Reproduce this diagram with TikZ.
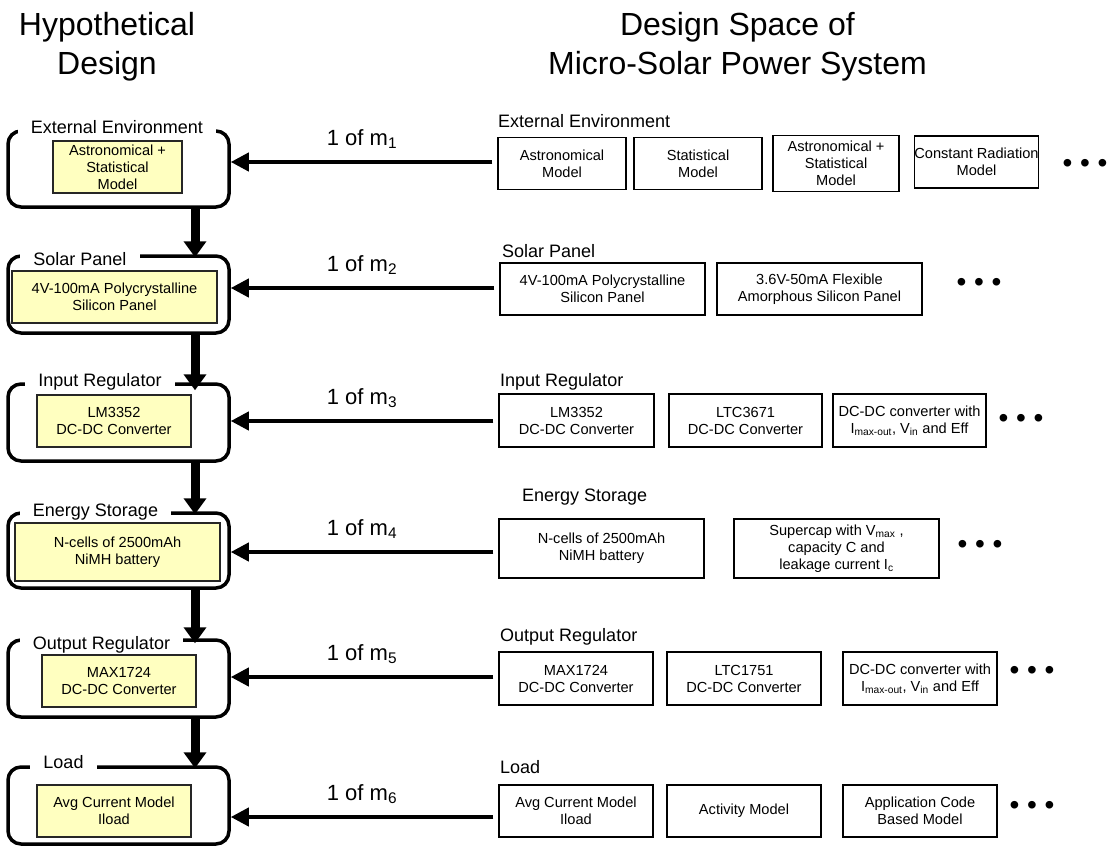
\documentclass[tikz,border=0pt]{standalone}
\usepackage{fontspec}
\setmainfont{Liberation Sans}
\usetikzlibrary{arrows.meta}
\definecolor{boxyellow}{RGB}{255,255,192}
\begin{document}
\begin{tikzpicture}[x=1pt,y=-1pt,
  container/.style={draw=black, line width=3.5pt, rounded corners=13pt, inner sep=0pt},
  choice/.style={draw=black!85, fill=boxyellow, line width=1.3pt, inner sep=0pt, align=center, font=\fontsize{14.6}{17}\selectfont},
  option/.style={draw=black, line width=1.2pt, inner sep=0pt, align=center, font=\fontsize{14.6}{17}\selectfont},
  clabel/.style={anchor=base, fill=white, inner xsep=13pt, inner ysep=1pt, font=\fontsize{18}{20}\selectfont},
  slabel/.style={anchor=base west, inner sep=0pt, font=\fontsize{18}{20}\selectfont},
  mlabel/.style={anchor=base, inner sep=0pt, font=\fontsize{22}{24}\selectfont},
  title/.style={align=center, inner sep=0pt, font=\fontsize{32}{39}\selectfont},
  dots/.style={inner sep=0pt, font=\fontsize{28}{28}\selectfont},
  harrow/.style={line width=4pt, -{Triangle[length=18pt,width=18pt]}, shorten <=5pt},
  varrow/.style={line width=9pt, -{Triangle[length=16pt,width=22pt]}},
]
\useasboundingbox (0,0) rectangle (1114,846);

% titles
\node[title] (th) at (107,47) {Hypothetical\\Design};
\node[title] (ts) at (737.5,47) {Design Space of\\Micro-Solar Power System};

% left containers
\node[container, minimum width=221pt, minimum height=76pt] (L1) at (118.5,169) {};
\node[container, minimum width=221pt, minimum height=77pt] (L2) at (118.5,294.5) {};
\node[container, minimum width=221pt, minimum height=77pt] (L3) at (118.5,422.5) {};
\node[container, minimum width=221pt, minimum height=75pt] (L4) at (118.5,550.5) {};
\node[container, minimum width=221pt, minimum height=77pt] (L5) at (118.5,678.5) {};
\node[container, minimum width=221pt, minimum height=77pt] (L6) at (118.5,805.5) {};

% container labels
\node[clabel] (T1) at (117,133) {External Environment};
\node[clabel] (T2) at (80,265) {Solar Panel};
\node[clabel] (T3) at (100,386) {Input Regulator};
\node[clabel] (T4) at (95.5,516) {Energy Storage};
\node[clabel] (T5) at (101.5,649) {Output Regulator};
\node[clabel] (T6) at (63.5,768) {Load};

% chosen components
\node[choice, minimum width=129pt, minimum height=52pt] (Y1) at (117.5,167) {Astronomical +\\Statistical\\Model};
\node[choice, minimum width=205pt, minimum height=52pt] (Y2) at (114.5,297) {4V-100mA Polycrystalline\\Silicon Panel};
\node[choice, minimum width=154pt, minimum height=52pt] (Y3) at (114,421) {LM3352\\DC-DC Converter};
\node[choice, minimum width=205pt, minimum height=58pt] (Y4) at (117.5,552) {N-cells of 2500mAh\\NiMH battery};
\node[choice, minimum width=154pt, minimum height=52pt] (Y5) at (119,681) {MAX1724\\DC-DC Converter};
\node[choice, minimum width=154pt, minimum height=52pt] (Y6) at (114,811) {Avg Current Model\\Iload};

% vertical flow arrows
\coordinate (vx) at (195,0);
\draw[varrow] (L1.south -| vx) -- ([yshift=-3pt]L2.north -| vx);
\draw[varrow] (L2.south -| vx) -- ([yshift=-8pt]L3.north -| vx);
\draw[varrow] (L3.south -| vx) -- ([yshift=-3pt]L4.north -| vx);
\draw[varrow] (L4.south -| vx) -- ([yshift=-5pt]L5.north -| vx);
\draw[varrow] (L5.south -| vx) -- ([yshift=-3pt]L6.north -| vx);

% right column: row labels
\node[slabel] (S1) at (498,127) {External Environment};
\node[slabel] (S2) at (502,257) {Solar Panel};
\node[slabel] (S3) at (500,386) {Input Regulator};
\node[slabel] (S4) at (522,501) {Energy Storage};
\node[slabel] (S5) at (500,641) {Output Regulator};
\node[slabel] (S6) at (500,773) {Load};

% row 1 options
\node[option, minimum width=128pt, minimum height=52pt] (R11) at (562,163.5) {Astronomical\\Model};
\node[option, minimum width=128pt, minimum height=52pt] (R12) at (698,163.5) {Statistical\\Model};
\node[option, minimum width=126pt, minimum height=56pt] (R13) at (836,163.5) {Astronomical +\\Statistical\\Model};
\node[option, minimum width=124pt, minimum height=52pt] (R14) at (976.5,162) {Constant Radiation\\Model};
\node[dots] (D1) at (1085,166) {• • •};

% row 2 options
\node[option, minimum width=205pt, minimum height=52pt] (R21) at (602.5,289) {4V-100mA Polycrystalline\\Silicon Panel};
\node[option, minimum width=205pt, minimum height=52pt] (R22) at (819.5,289) {3.6V-50mA Flexible\\Amorphous Silicon Panel};
\node[dots] (D2) at (979,285) {• • •};

% row 3 options
\node[option, minimum width=155pt, minimum height=53pt] (R31) at (576.5,420.5) {LM3352\\DC-DC Converter};
\node[option, minimum width=153pt, minimum height=53pt] (R32) at (745.5,420.5) {LTC3671\\DC-DC Converter};
\node[option, minimum width=153pt, minimum height=53pt] (R33) at (909.5,420.5) {DC-DC converter with\\I\textsubscript{max-out}, V\textsubscript{in} and Eff};
\node[dots] (D3) at (1021,421) {• • •};

% row 4 options
\node[option, minimum width=205pt, minimum height=59pt] (R41) at (601.5,548.5) {N-cells of 2500mAh\\NiMH battery};
\node[option, minimum width=205pt, minimum height=59pt] (R42) at (836.5,548.5) {Supercap with V\textsubscript{max} ,\\capacity C and\\leakage current I\textsubscript{c}};
\node[dots] (D4) at (980,547) {• • •};

% row 5 options
\node[option, minimum width=154pt, minimum height=53pt] (R51) at (576,678.5) {MAX1724\\DC-DC Converter};
\node[option, minimum width=154pt, minimum height=53pt] (R52) at (744,678.5) {LTC1751\\DC-DC Converter};
\node[option, minimum width=154pt, minimum height=53pt] (R53) at (920,678.5) {DC-DC converter with\\I\textsubscript{max-out}, V\textsubscript{in} and Eff};
\node[dots] (D5) at (1032,673) {• • •};

% row 6 options
\node[option, minimum width=154pt, minimum height=52pt] (R61) at (576,811) {Avg Current Model\\Iload};
\node[option, minimum width=154pt, minimum height=52pt] (R62) at (744,811) {Activity Model};
\node[option, minimum width=154pt, minimum height=52pt] (R63) at (920,811) {Application Code\\Based Model};
\node[dots] (D6) at (1032,808) {• • •};

% selection arrows
\coordinate (a1) at (0,162);
\coordinate (a2) at (0,288);
\coordinate (a3) at (0,421);
\coordinate (a4) at (0,552);
\coordinate (a5) at (0,677);
\coordinate (a6) at (0,817);
\draw[harrow] (R11.west |- a1) -- (L1.east |- a1);
\draw[harrow] (R21.west |- a2) -- (L2.east |- a2);
\draw[harrow] (R31.west |- a3) -- (L3.east |- a3);
\draw[harrow] (R41.west |- a4) -- (L4.east |- a4);
\draw[harrow] (R51.west |- a5) -- (L5.east |- a5);
\draw[harrow] (R61.west |- a6) -- (L6.east |- a6);

% arrow labels
\node[mlabel] (M1) at (362,145) {1 of m\textsubscript{1}};
\node[mlabel] (M2) at (362,271) {1 of m\textsubscript{2}};
\node[mlabel] (M3) at (362,404) {1 of m\textsubscript{3}};
\node[mlabel] (M4) at (362,535) {1 of m\textsubscript{4}};
\node[mlabel] (M5) at (362,660) {1 of m\textsubscript{5}};
\node[mlabel] (M6) at (362,800) {1 of m\textsubscript{6}};
\end{tikzpicture}
\end{document}
